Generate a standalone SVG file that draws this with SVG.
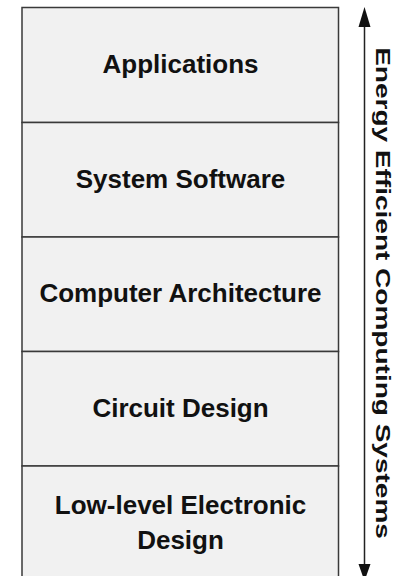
<svg xmlns="http://www.w3.org/2000/svg" width="402" height="576" viewBox="0 0 402 576">
<defs>
<style>
.box{fill:#f1f1f1;stroke:#3a3a3a;stroke-width:1.5}
.lbl{font-family:"Liberation Sans",Arial,sans-serif;font-weight:bold;font-size:26px;fill:#111;text-anchor:middle}
.side{font-family:"Liberation Sans",Arial,sans-serif;font-weight:bold;font-size:21px;fill:#111;text-anchor:middle}
.conn{stroke:#222;stroke-width:1.5;fill:none}
.head{fill:#111}
</style>
</defs>
<rect width="402" height="576" fill="#ffffff"/>
<g id="applications">
<rect class="box" x="22" y="7.5" width="316.5" height="115"/>
<text class="lbl" x="180.5" y="72.5">Applications</text>
</g>
<g id="system-software">
<rect class="box" x="22" y="122.5" width="316.5" height="114.5"/>
<text class="lbl" x="180.5" y="187.5">System Software</text>
</g>
<g id="computer-architecture">
<rect class="box" x="22" y="237" width="316.5" height="114.5"/>
<text class="lbl" x="180.5" y="302">Computer Architecture</text>
</g>
<g id="circuit-design">
<rect class="box" x="22" y="351.5" width="316.5" height="114.5"/>
<text class="lbl" x="180.5" y="417">Circuit Design</text>
</g>
<g id="low-level-electronic-design">
<rect class="box" x="22" y="466" width="316.5" height="120"/>
<text class="lbl" x="180.5" y="513.5">Low-level Electronic</text>
<text class="lbl" x="180.5" y="548.5">Design</text>
</g>
<g id="connectors">
<line class="conn" x1="364.5" y1="24" x2="364.5" y2="568"/>
<path class="head" d="M358.5,27 L370.5,27 L364.5,7 Z"/>
<path class="head" d="M358.5,564 L370.5,564 L364.5,581 Z"/>
</g>
<g id="axis-label">
<text class="side" transform="translate(375.5,293) rotate(90) scale(1.334,1)" x="0" y="0">Energy Efficient Computing Systems</text>
</g>
</svg>
